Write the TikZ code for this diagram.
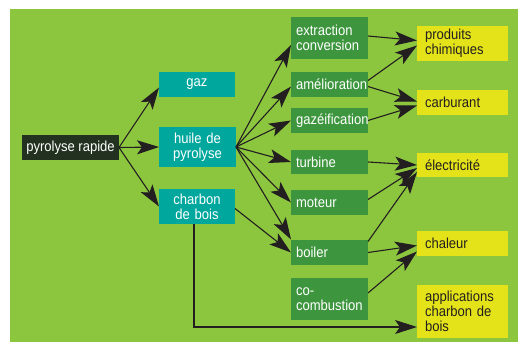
\documentclass[tikz,border=0pt]{standalone}
\usepackage{fontspec}
\setmainfont[FakeStretch=0.9]{Liberation Sans}
\usetikzlibrary{arrows.meta}
\definecolor{bggreen}{HTML}{8CC63F}
\definecolor{tealbox}{HTML}{00A79D}
\definecolor{greenbox}{HTML}{3D963E}
\definecolor{yellowbox}{HTML}{E4E31A}
\definecolor{darkbox}{HTML}{233220}
\definecolor{inkdark}{HTML}{231F20}
\begin{document}
\begin{tikzpicture}[x=1pt,y=-1pt,
  every node/.style={font=\fontsize{14.5}{15}\selectfont},
  base/.style={rectangle, inner ysep=0pt, outer sep=0pt},
  tealb/.style={base, fill=tealbox, text=white, inner xsep=0pt, text width=#1, align=center, minimum width=#1},
  greenb/.style={base, fill=greenbox, text=white, inner xsep=5pt, text width=67pt, align=left, minimum width=77pt},
  yellowb/.style={base, fill=yellowbox, text=inkdark, inner xsep=8pt, text width=75pt, align=left, minimum width=91pt},
  arr/.style={draw=inkdark, line width=1.1pt, -{Stealth[length=22pt,width=14pt,inset=5pt]}}
]
\useasboundingbox (0,0) rectangle (518,342);
\fill[white] (0,0) rectangle (518,342);
\fill[bggreen] (10,9) rectangle (518,342);

% left
\node[base, fill=darkbox, text=white, inner xsep=0pt, minimum width=97pt, minimum height=25pt] (pyr) at (70.5,147.5) {pyrolyse rapide};
\node[tealb=76pt, minimum height=25pt] (gaz) at (197,84.5) {gaz};
\node[tealb=77pt, minimum height=40pt] (huile) at (197.5,147) {huile de\\pyrolyse};
\node[tealb=76pt, minimum height=35pt] (charbon) at (197,206.5) {charbon\\de bois};

% middle
\node[greenb, minimum height=42pt] (ext) at (329.5,38) {extraction\\conversion};
\node[greenb, minimum height=25pt] (amel) at (329.5,84.5) {amélioration};
\node[greenb, minimum height=25pt] (gazei) at (329.5,120.5) {gazéification};
\node[greenb, minimum height=24pt] (turb) at (329.5,162) {turbine};
\node[greenb, minimum height=25pt] (mot) at (329.5,202.5) {moteur};
\node[greenb, minimum height=25pt] (boil) at (329.5,252.5) {boiler};
\node[greenb, minimum height=42pt] (cocomb) at (329.5,299) {co-\\combustion};

% right
\node[yellowb, minimum height=35pt] (prod) at (462.5,43.5) {produits\\chimiques};
\node[yellowb, minimum height=25pt] (carb) at (462.5,102.5) {carburant};
\node[yellowb, minimum height=24pt] (elec) at (462.5,165) {électricité};
\node[yellowb, minimum height=25pt] (chal) at (462.5,243.5) {chaleur};
\node[yellowb, minimum height=53pt] (appl) at (462.5,311.5) {applications\\charbon de\\bois};

% connectors from pyrolyse rapide
\draw[arr] (pyr.east) -- ([yshift=-3pt]gaz.west);
\draw[arr] (pyr.east) -- (huile.west);
\draw[arr] (pyr.east) -- (charbon.west);

% from huile de pyrolyse
\draw[arr] (huile.east) -- ([yshift=-7pt]ext.west);
\draw[arr] (huile.east) -- ([yshift=-2pt]amel.west);
\draw[arr] (huile.east) -- (gazei.west);
\draw[arr] (huile.east) -- (turb.west);
\draw[arr] (huile.east) -- (mot.west);
\draw[arr] (huile.east) -- ([yshift=13pt]boil.west);

% from charbon de bois
\draw[arr] ([yshift=-2pt]charbon.east) -- (boil.west);
\draw[arr] ([xshift=-3pt]charbon.south) |- ([yshift=-15.5pt]appl.west);

% middle to right
\draw[arr] ([yshift=2pt]ext.east) -- ([yshift=3pt]prod.west);
\draw[arr] ([yshift=4pt]amel.east) -- ([yshift=-2pt]prod.west);
\draw[arr] ([yshift=-2pt]amel.east) -- ([yshift=1pt]carb.west);
\draw[arr] (gazei.east) -- ([yshift=-3pt]carb.west);
\draw[arr] (turb.east) -- (elec.west);
\draw[arr] ([yshift=3pt]mot.east) -- ([yshift=-3pt]elec.west);
\draw[arr] ([yshift=11pt]boil.east) -- ([yshift=-7pt]elec.west);
\draw[arr] (boil.east) -- ([yshift=-2pt]chal.west);
\draw[arr] ([yshift=6pt]cocomb.east) -- ([yshift=-8pt]chal.west);
\end{tikzpicture}
\end{document}
